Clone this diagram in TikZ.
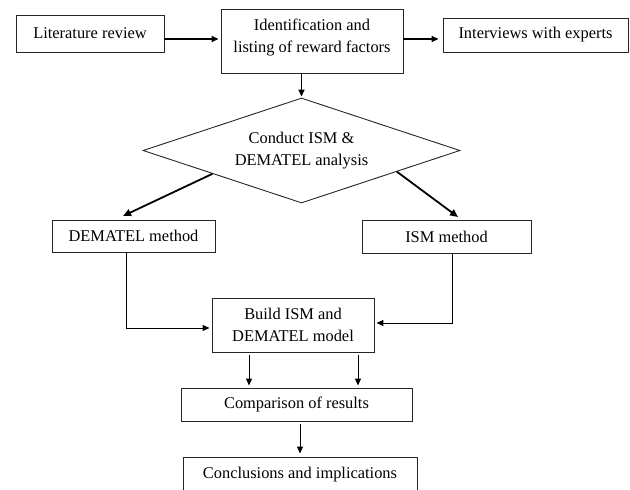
\documentclass[tikz,border=0pt]{standalone}
\usepackage{fontspec}
\setmainfont{Liberation Serif}
\usetikzlibrary{arrows.meta,shapes.geometric,calc}
\begin{document}
\begin{tikzpicture}[x=1pt,y=-1pt,
  txt/.style={font=\fontsize{16.4}{22}\selectfont, align=center},
  box/.style={txt, draw=black!85, line width=0.9pt, rectangle, inner sep=0pt},
  dia/.style={txt, draw=black!85, line width=0.9pt, diamond, aspect=3, inner sep=0pt},
  arr/.style={-{Triangle[length=7pt,width=6pt]}, line width=1pt},
  midarr/.style={-{Triangle[length=7pt,width=6pt]}, line width=1.5pt},
  thickarr/.style={-{Triangle[length=8pt,width=7pt]}, line width=1.8pt},
]
\clip (0,0) rectangle (630,490);
\fill[white] (0,0) rectangle (630,490);
% boxes
\node[box, minimum width=148pt, minimum height=37pt] (lit) at (90,33.5) {Literature review};
\node[box, minimum width=182pt, minimum height=64pt, text depth=11.5pt] (ident) at (312,41) {Identification and\\listing of reward factors};
\node[box, minimum width=185pt, minimum height=34pt] (interv) at (535.5,35) {Interviews with experts};
\node[dia, minimum width=317pt, minimum height=105pt] (dmd) at (301.5,150.5) {Conduct ISM \&\\DEMATEL analysis};
\node[box, minimum width=163pt, minimum height=32pt] (dem) at (133.5,236) {DEMATEL method};
\node[box, minimum width=169pt, minimum height=33pt] (ism) at (446.5,236.5) {ISM method};
\node[box, minimum width=162pt, minimum height=54pt] (build) at (293,325) {Build ISM and\\DEMATEL model};
\node[box, minimum width=231pt, minimum height=33pt] (comp) at (296.5,404.5) {Comparison of results};
\node[box, minimum width=234pt, minimum height=36pt] (concl) at (300,475) {Conclusions and implications};
% helper coordinates
\coordinate (ya) at (0,39);
\coordinate (demtip) at (123,216);
\coordinate (ismtip) at (458,217);
\coordinate (jl) at (126,328);
\coordinate (jr) at (452,323);
\coordinate (cl) at (249,0);
\coordinate (cr) at (358,0);
\coordinate (cm) at (300,0);
% connectors
\draw[midarr, shorten >=2pt] (lit.east |- ya) -- (ident.west |- ya);
\draw[midarr, shorten >=4pt] (ident.east |- ya) -- (interv.west |- ya);
\draw[midarr, shorten >=1pt] (ident.south -| dmd.north) -- (dmd.north);
\draw[thickarr] ($(dmd.west)!0.44!(dmd.south)$) -- (demtip);
\draw[thickarr] ($(dmd.east)!0.40!(dmd.south)$) -- (ismtip);
\draw[arr, shorten >=2pt] (dem.south -| jl) |- (build.west |- jl);
\draw[arr, shorten >=2pt] (ism.south -| jr) |- (build.east |- jr);
\draw[arr, shorten <=3pt, shorten >=2pt] (build.south -| cl) -- (comp.north -| cl);
\draw[arr, shorten <=3pt, shorten >=2pt] (build.south -| cr) -- (comp.north -| cr);
\draw[arr, shorten <=3pt, shorten >=3pt] (comp.south -| cm) -- (concl.north -| cm);
\end{tikzpicture}
\end{document}
